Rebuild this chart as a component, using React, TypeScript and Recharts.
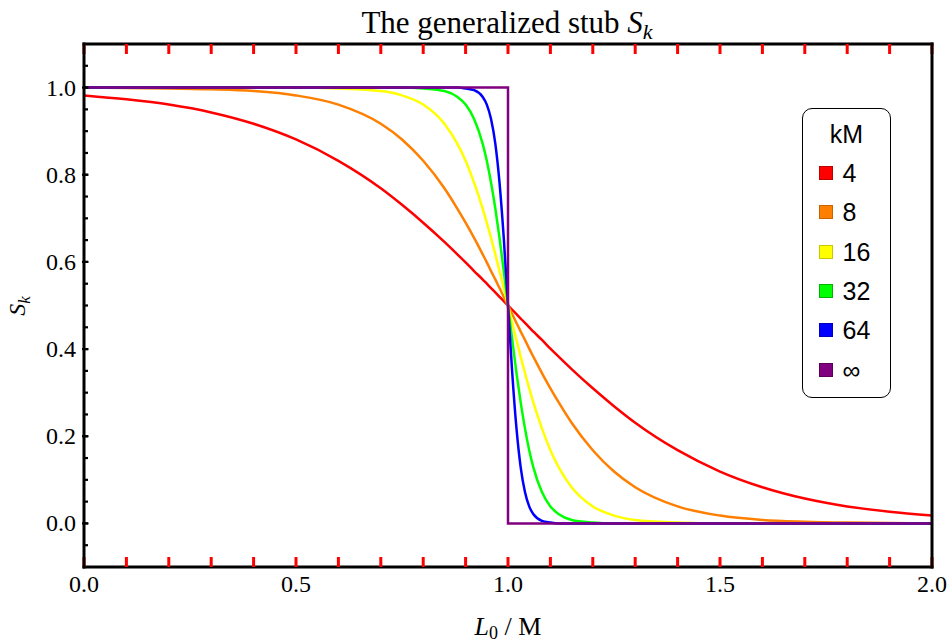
import { LineChart, Line, XAxis, YAxis, Legend } from 'recharts'

// sample positions along L0 / M
const lengths = [
  0, 0.1, 0.2, 0.3, 0.4, 0.5, 0.6, 0.7, 0.75, 0.8, 0.85, 0.88, 0.9, 0.92, 0.94, 0.95, 0.96, 0.97, 0.98, 0.99,
  1.0, 1.01, 1.02, 1.03, 1.04, 1.05, 1.06, 1.08, 1.1, 1.12, 1.15, 1.2, 1.25, 1.3, 1.4, 1.5, 1.6, 1.7, 1.8, 1.9, 2.0
]

// S_k, one list per kM
const s4 = [
  0.982, 0.973, 0.961, 0.943, 0.917, 0.881, 0.832, 0.769, 0.731, 0.69, 0.646, 0.618, 0.599, 0.579, 0.56, 0.55, 0.54, 0.53, 0.52, 0.51,
  0.5, 0.49, 0.48, 0.47, 0.46, 0.45, 0.44, 0.421, 0.401, 0.382, 0.354, 0.31, 0.269, 0.231, 0.168, 0.119, 0.083, 0.057, 0.039, 0.027, 0.018
]
const s8 = [
  1.0, 0.999, 0.998, 0.996, 0.992, 0.982, 0.961, 0.917, 0.881, 0.832, 0.769, 0.723, 0.69, 0.655, 0.618, 0.599, 0.579, 0.56, 0.54, 0.52,
  0.5, 0.48, 0.46, 0.44, 0.421, 0.401, 0.382, 0.345, 0.31, 0.277, 0.231, 0.168, 0.119, 0.083, 0.039, 0.018, 0.008, 0.004, 0.002, 0.001, 0.0
]
const s16 = [
  1, 1, 1, 1, 1, 1.0, 0.998, 0.992, 0.982, 0.961, 0.917, 0.872, 0.832, 0.782, 0.723, 0.69, 0.655, 0.618, 0.579, 0.54,
  0.5, 0.46, 0.421, 0.382, 0.345, 0.31, 0.277, 0.218, 0.168, 0.128, 0.083, 0.039, 0.018, 0.008, 0.002, 0, 0, 0, 0, 0, 0
]
const s32 = [
  1, 1, 1, 1, 1, 1, 1, 1, 1, 0.998, 0.992, 0.979, 0.961, 0.928, 0.872, 0.832, 0.782, 0.723, 0.655, 0.579,
  0.5, 0.421, 0.345, 0.277, 0.218, 0.168, 0.128, 0.072, 0.039, 0.021, 0.008, 0.002, 0, 0, 0, 0, 0, 0, 0, 0, 0
]
const s64 = [
  1, 1, 1, 1, 1, 1, 1, 1, 1, 1, 1, 1, 0.998, 0.994, 0.979, 0.961, 0.928, 0.872, 0.782, 0.655,
  0.5, 0.345, 0.218, 0.128, 0.072, 0.039, 0.021, 0.006, 0.002, 0, 0, 0, 0, 0, 0, 0, 0, 0, 0, 0, 0
]

// kM -> infinity is a step
const stepLengths = [0, 1, 1, 2]
const stepValues = [1, 1, 0, 0]

const seriesNames = ['4', '8', '16', '32', '64', '∞']
const seriesColors = ['#ff0000', '#ff7f00', '#ffff00', '#00ff00', '#0000ff', '#800080']
const swatchBorders = ['#c00000', '#c86400', '#c8c800', '#00b400', '#0000c0', '#5a005a']

const xTicks = [
  0, 0.1, 0.2, 0.3, 0.4, 0.5, 0.6, 0.7, 0.8, 0.9, 1.0, 1.1, 1.2, 1.3, 1.4, 1.5, 1.6, 1.7, 1.8, 1.9, 2.0
]
const yTicks = [
  -0.05, 0, 0.05, 0.1, 0.15, 0.2, 0.25, 0.3, 0.35, 0.4, 0.45, 0.5, 0.55, 0.6, 0.65, 0.7, 0.75, 0.8, 0.85, 0.9, 0.95, 1.0, 1.05
]

const table = lengths.map((x, i) => ({
  x,
  k4: s4[i],
  k8: s8[i],
  k16: s16[i],
  k32: s32[i],
  k64: s64[i]
}))
const stepTable = stepLengths.map((x, i) => ({ x, kInf: stepValues[i] }))
const curveKeys = ['k4', 'k8', 'k16', 'k32', 'k64']

const serif = '"Liberation Serif", "Times New Roman", serif'
const sans = '"Liberation Sans", Arial, sans-serif'
const frame = { stroke: '#000', strokeWidth: 3, strokeLinecap: 'square' as const }
const TICK_W = 2.2
const tickMark = { stroke: '#000', strokeWidth: TICK_W }
const xTickMark = { stroke: '#ff0000', strokeWidth: 3 }
const MINOR = 4 // inward tick length from tickLine
const MAJOR = 6.5

const isMajorX = (v: number) => Math.round(v * 10) % 5 === 0
const isMajorY = (v: number) => Math.round(v * 100) % 20 === 0

// (x, y) handed in sit at the inner end of the minor tick
function BottomTick({ x, y, payload }: any) {
  const v = payload.value
  if (!isMajorX(v)) return <g />
  const base = y + MINOR
  return (
    <text x={x} y={base + 29} textAnchor="middle" fontFamily={serif} fontSize={24} fill="#000">
      {v.toFixed(1)}
    </text>
  )
}

const NoLabel = () => <g />

function LeftTick({ x, y, payload }: any) {
  const v = payload.value
  if (!isMajorY(v)) return <g />
  const base = x - MINOR
  return (
    <g>
      <path d={`M${base},${y}H${base + MAJOR}`} stroke="#000" strokeWidth={TICK_W} fill="none" />
      <text x={base - 6} y={y + 8} textAnchor="end" fontFamily={serif} fontSize={24} fill="#000">
        {v.toFixed(1)}
      </text>
    </g>
  )
}

function RightTick({ x, y, payload }: any) {
  if (!isMajorY(payload.value)) return <g />
  const base = x + MINOR
  return <path d={`M${base},${y}H${base - MAJOR}`} stroke="#000" strokeWidth={TICK_W} fill="none" />
}

function KeyBox() {
  return (
    <div
      style={{
        position: 'relative',
        width: 89,
        height: 290,
        boxSizing: 'border-box',
        border: '1.5px solid #000',
        borderRadius: 10,
        background: '#fff',
        fontFamily: sans,
        fontSize: 25,
        color: '#000'
      }}
    >
      <div style={{ position: 'absolute', left: 0, right: 0, top: 10, lineHeight: '30px', textAlign: 'center' }}>kM</div>
      {seriesNames.map((name, i) => {
        const cy = 64 + i * 39.3
        return (
          <div key={name}>
            <div
              style={{
                position: 'absolute',
                left: 15.5,
                top: cy - 7,
                width: 14,
                height: 14,
                boxSizing: 'border-box',
                background: seriesColors[i],
                border: `1px solid ${swatchBorders[i]}`
              }}
            />
            <div style={{ position: 'absolute', left: 39.5, top: cy - 15, lineHeight: '30px' }}>{name}</div>
          </div>
        )
      })}
    </div>
  )
}

export default function App() {
  return (
    <div style={{ position: 'absolute', left: 0, top: 0, width: 951, height: 641, background: '#fff' }}>
      <LineChart width={951} height={641} data={table} margin={{ top: 0, right: 0, bottom: 0, left: 0 }}>
        <XAxis
          dataKey="x"
          type="number"
          domain={[0, 2]}
          ticks={xTicks}
          interval={0}
          height={74}
          tickSize={-10}
          tickLine={xTickMark}
          axisLine={frame}
          tick={BottomTick}
        />
        <XAxis
          xAxisId="top"
          dataKey="x"
          orientation="top"
          type="number"
          domain={[0, 2]}
          ticks={xTicks}
          interval={0}
          height={44}
          tickSize={-10}
          tickLine={xTickMark}
          axisLine={frame}
          tick={NoLabel}
        />
        <YAxis
          type="number"
          domain={[-0.1, 1.1]}
          ticks={yTicks}
          interval={0}
          width={84}
          tickSize={-MINOR}
          tickLine={tickMark}
          axisLine={frame}
          tick={LeftTick}
        />
        <YAxis
          yAxisId="right"
          orientation="right"
          type="number"
          domain={[-0.1, 1.1]}
          ticks={yTicks}
          interval={0}
          width={19}
          tickSize={-MINOR}
          tickLine={tickMark}
          axisLine={frame}
          tick={RightTick}
        />
        {curveKeys.map((key, i) => (
          <Line
            key={key}
            dataKey={key}
            name={seriesNames[i]}
            type="monotone"
            stroke={seriesColors[i]}
            strokeWidth={2.5}
            dot={false}
            activeDot={false}
            isAnimationActive={false}
          />
        ))}
        <Line
          data={stepTable}
          dataKey="kInf"
          name={seriesNames[5]}
          type="linear"
          stroke={seriesColors[5]}
          strokeWidth={2.5}
          dot={false}
          activeDot={false}
          isAnimationActive={false}
        />
        <Legend
          layout="vertical"
          align="center"
          verticalAlign="middle"
          content={() => <KeyBox />}
          wrapperStyle={{ left: 802, top: 108, width: 89, height: 290 }}
        />
        <text x={507} y={33} textAnchor="middle" fontFamily={serif} fontSize={31} fill="#000">
          The generalized stub <tspan fontStyle="italic">S</tspan>
          <tspan fontStyle="italic" fontSize={22} dy={6}>k</tspan>
        </text>
        <text x={508} y={635} textAnchor="middle" fontFamily={serif} fontSize={26} fill="#000">
          <tspan fontStyle="italic">L</tspan>
          <tspan fontSize={18} dy={4}>0</tspan>
          <tspan dy={-4}> / M</tspan>
        </text>
        <text
          x={0}
          y={0}
          transform="translate(25 306) rotate(-90)"
          textAnchor="middle"
          fontFamily={serif}
          fontSize={24}
          fill="#000"
        >
          <tspan fontStyle="italic">S</tspan>
          <tspan fontStyle="italic" fontSize={17} dy={5}>k</tspan>
        </text>
      </LineChart>
    </div>
  )
}
